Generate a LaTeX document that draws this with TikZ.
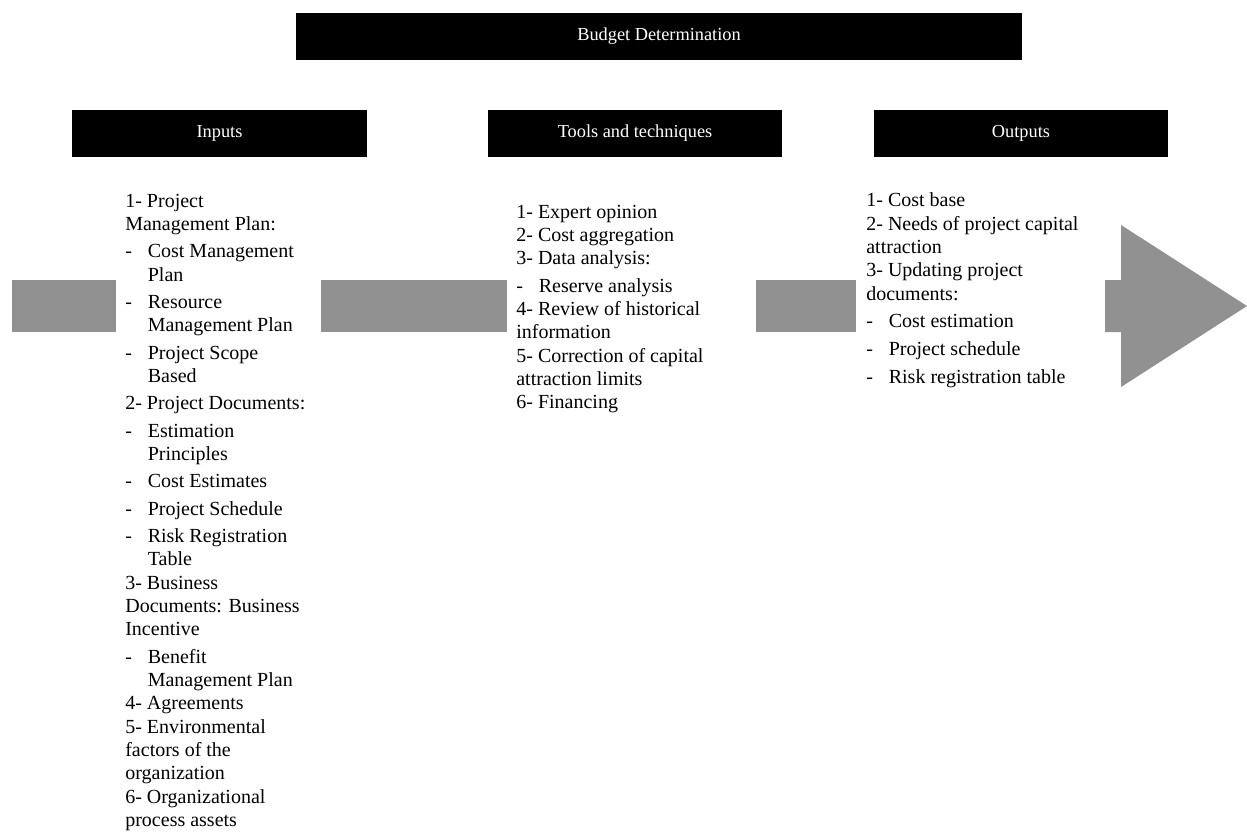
\documentclass[tikz,border=0pt]{standalone}
\usepackage{fontspec}
\setmainfont{Liberation Serif}
\definecolor{barGray}{RGB}{145,145,145}
% list helpers: a dashed sub-item and its wrapped continuation line
\newcommand\dashitem[1]{\makebox[13.5pt][l]{-}#1}
\newcommand\dashcont[1]{\hspace*{13.5pt}#1}
\tikzset{
  headbox/.style={fill=black, text=white, inner sep=0pt,
    font=\fontsize{11}{13}\selectfont, minimum height=28.2pt},
  flowbar/.style={fill=barGray, draw=none},
  listtext/.style={align=left, inner sep=0pt, anchor=north west,
    font=\fontsize{12}{14}\selectfont}
}
\begin{document}
\begin{tikzpicture}[x=0.6pt,y=-0.6pt]
\useasboundingbox (0,0) rectangle (1247,833);

% headings
\node[headbox, minimum width=435.6pt] (budget) at (659,36.5) {Budget Determination};
\node[headbox, minimum width=177pt] (inputs) at (219.5,133.5) {Inputs};
\node[headbox, minimum width=176.4pt] (tools) at (635,133.5) {Tools and techniques};
\node[headbox, minimum width=176.4pt] (outputs) at (1021,133.5) {Outputs};

% flow bars and the closing arrow
\fill[flowbar] (12,280) rectangle (116,332);
\fill[flowbar] (321,280) rectangle (507,332);
\fill[flowbar] (756,280) rectangle (856,332);
\fill[flowbar] (1105,280) -- (1121,280) -- (1121,225) -- (1247,306)
  -- (1121,387) -- (1121,332) -- (1105,332) -- cycle;

% inputs list
\node[listtext] (inlist) at (125,193.5) {%
1- Project\\
Management Plan:\\[2.4pt]
\dashitem{Cost Management}\\
\dashcont{Plan}\\[2.4pt]
\dashitem{Resource}\\
\dashcont{Management Plan}\\[2.4pt]
\dashitem{Project Scope}\\
\dashcont{Based}\\[2.4pt]
2- Project Documents:\\[2.4pt]
\dashitem{Estimation}\\
\dashcont{Principles}\\[2.4pt]
\dashitem{Cost Estimates}\\[2.4pt]
\dashitem{Project Schedule}\\[2.4pt]
\dashitem{Risk Registration}\\
\dashcont{Table}\\
3- Business\\
Documents: Business\\
Incentive\\[2.4pt]
\dashitem{Benefit}\\
\dashcont{Management Plan}\\
4- Agreements\\
5- Environmental\\
factors of the\\
organization\\
6- Organizational\\
process assets};

% tools and techniques list
\node[listtext] (toollist) at (516,204.5) {%
1- Expert opinion\\
2- Cost aggregation\\
3- Data analysis:\\[2.4pt]
\dashitem{Reserve analysis}\\
4- Review of historical\\
information\\
5- Correction of capital\\
attraction limits\\
6- Financing};

% outputs list
\node[listtext] (outlist) at (866,192.5) {%
1- Cost base\\
2- Needs of project capital\\
attraction\\
3- Updating project\\
documents:\\[2.7pt]
\dashitem{Cost estimation}\\[2.7pt]
\dashitem{Project schedule}\\[2.7pt]
\dashitem{Risk registration table}};
\end{tikzpicture}
\end{document}
